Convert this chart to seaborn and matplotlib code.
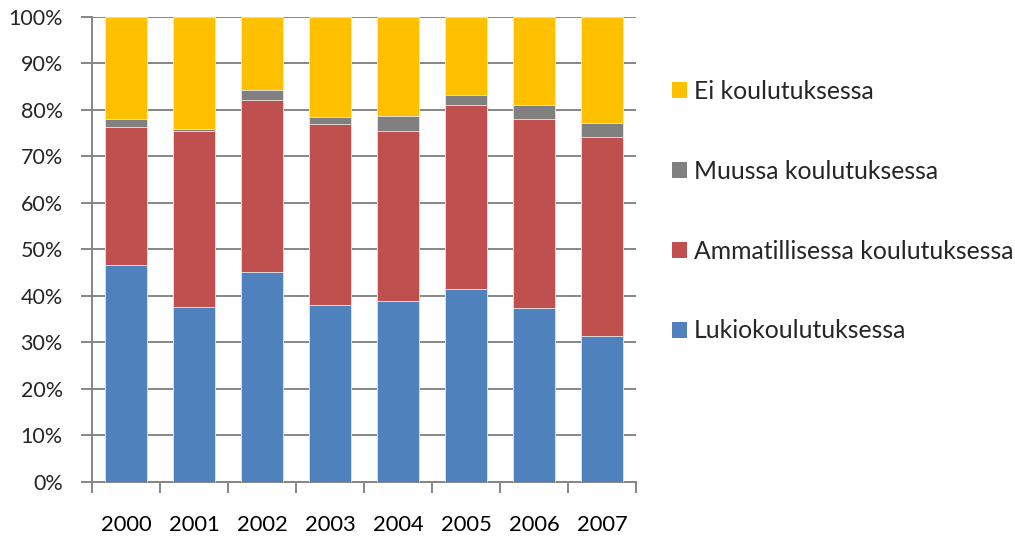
import seaborn as sns
import matplotlib.pyplot as plt
import pandas as pd
import numpy as np
import matplotlib.ticker as mtick
from matplotlib.patches import Patch

vuodet = ['2000', '2001', '2002', '2003', '2004', '2005', '2006', '2007']
lukio = [46.6, 37.6, 45.0, 37.9, 38.8, 41.4, 37.3, 31.3]
ammatillinen = [29.6, 37.9, 37.1, 39.1, 36.7, 39.6, 40.7, 42.8]
muu = [1.8, 0.3, 2.1, 1.5, 3.2, 2.2, 3.0, 3.0]
ei = [22.0, 24.2, 15.8, 21.5, 21.3, 16.8, 19.0, 22.9]

sarjat = ['Lukiokoulutuksessa', 'Ammatillisessa koulutuksessa', 'Muussa koulutuksessa', 'Ei koulutuksessa']
varit = ['#4F81BD', '#C0504D', '#808080', '#FFC000']

df = pd.DataFrame({'Vuosi': vuodet, sarjat[0]: lukio, sarjat[1]: ammatillinen,
                   sarjat[2]: muu, sarjat[3]: ei})
kum = df[sarjat].cumsum(axis=1)
kum['Vuosi'] = df['Vuosi']

sns.set_theme(style="white")
plt.rcParams['font.family'] = ['Lato', 'DejaVu Sans']

fig = plt.figure(figsize=(10.15, 5.38), dpi=100)
ax = fig.add_axes([0.0906, 0.1047, 0.536, 0.8643])

# pinotaan: piirretään ylin kerros ensin, alemmat sen päälle
for s, c in reversed(list(zip(sarjat, varit))):
    sns.barplot(data=kum, x='Vuosi', y=s, color=c, width=0.62, saturation=1,
                edgecolor='#e8e8e8', linewidth=0.6, ax=ax, zorder=3)

ax.set_ylim(0, 100)
ax.set_xlim(-0.5, 7.5)
ax.set_yticks(np.arange(0, 101, 10))
ax.yaxis.set_major_formatter(mtick.FuncFormatter(lambda x, _: '{:.0f}%'.format(x)))
ax.set_xlabel('')
ax.set_ylabel('')
ax.grid(axis='y', color='#868686', linewidth=1.4, zorder=0)
ax.set_axisbelow(True)

for side in ['top', 'right']:
    ax.spines[side].set_visible(False)
for side in ['left', 'bottom']:
    ax.spines[side].set_color('#868686')
    ax.spines[side].set_linewidth(1.4)

ax.set_xticks(np.arange(-0.5, 8, 1), minor=True)
ax.tick_params(axis='x', which='major', length=0, pad=24, labelsize=15.8, colors='black')
ax.tick_params(axis='x', which='minor', length=8, width=1.4, color='#868686', direction='out', bottom=True)
ax.tick_params(axis='y', which='major', length=8, width=1.4, color='#868686', direction='out',
               pad=13, labelsize=15.5, left=True)

kahvat = [Patch(facecolor=c, edgecolor='none') for c in varit]
leg = fig.legend(kahvat[::-1], sarjat[::-1], loc='upper left', bbox_to_anchor=(0.652, 0.870),
                 frameon=False, fontsize=17.8, handlelength=0.6, handleheight=0.6,
                 handletextpad=0.3, labelspacing=2.3, borderaxespad=0)

fig.savefig('out.png', dpi=100)
